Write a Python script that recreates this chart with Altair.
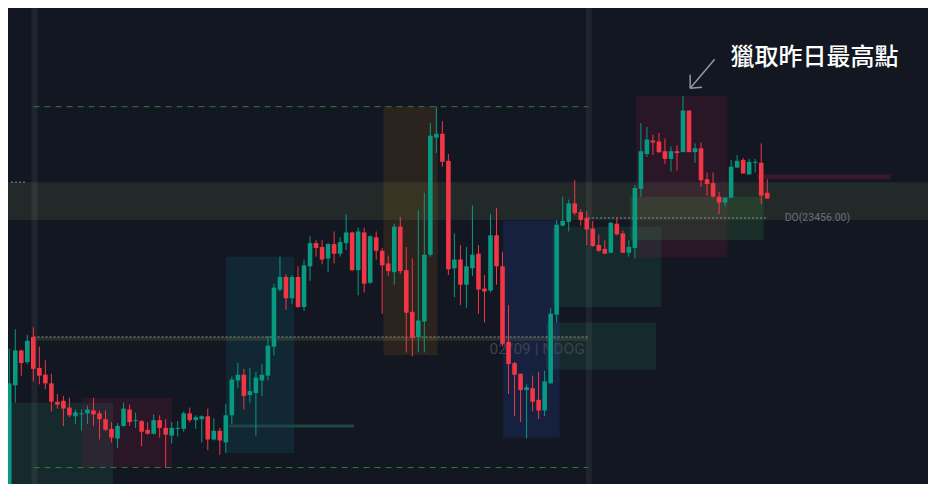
import altair as alt
import pandas as pd

# ---------------- candle data (bar index, OHLC) ----------------
open_ = [23180, 23283, 23319, 23307, 23333, 23301, 23294, 23285, 23266, 23267,
         23260, 23251, 23253, 23254, 23257, 23254, 23248, 23238, 23228, 23241,
         23258, 23246, 23246, 23237, 23233, 23247, 23239, 23231, 23238, 23238,
         23254, 23247, 23248, 23251, 23227, 23236, 23224, 23252, 23288, 23294,
         23273, 23275, 23288, 23293, 23323, 23382, 23395, 23373, 23395, 23364,
         23406, 23430, 23426, 23414, 23429, 23419, 23430, 23441, 23402, 23441,
         23389, 23436, 23422, 23409, 23400, 23447, 23402, 23359, 23333, 23349,
         23418, 23539, 23543, 23515, 23404, 23413, 23387, 23404, 23419, 23383,
         23381, 23438, 23406, 23328, 23306, 23295, 23278, 23280, 23268, 23257,
         23285, 23356, 23448, 23452, 23471, 23462, 23456, 23445, 23428, 23424,
         23420, 23450, 23440, 23420, 23425, 23486, 23522, 23536, 23535, 23525,
         23517, 23525, 23524, 23567, 23524, 23528, 23496, 23492, 23478, 23472,
         23477, 23508, 23516, 23501, 23513, 23513, 23482]
high = [23321, 23341, 23320, 23335, 23343, 23323, 23309, 23295, 23274, 23272,
        23270, 23258, 23258, 23262, 23270, 23257, 23257, 23245, 23244, 23265,
        23263, 23255, 23247, 23245, 23253, 23252, 23248, 23245, 23246, 23256,
        23260, 23252, 23252, 23259, 23249, 23239, 23264, 23292, 23306, 23300,
        23301, 23297, 23305, 23334, 23388, 23416, 23398, 23397, 23406, 23413,
        23437, 23433, 23433, 23430, 23442, 23436, 23460, 23442, 23446, 23446,
        23438, 23442, 23425, 23417, 23450, 23457, 23426, 23414, 23464, 23482,
        23554, 23571, 23556, 23522, 23440, 23428, 23426, 23469, 23428, 23397,
        23460, 23466, 23421, 23366, 23307, 23295, 23284, 23293, 23297, 23298,
        23363, 23454, 23478, 23475, 23495, 23465, 23463, 23453, 23439, 23433,
        23452, 23457, 23443, 23433, 23490, 23554, 23550, 23542, 23544, 23538,
        23530, 23531, 23582, 23567, 23533, 23534, 23503, 23503, 23483, 23477,
        23516, 23521, 23518, 23517, 23517, 23533, 23496]
low = [23177, 23265, 23293, 23305, 23287, 23284, 23279, 23256, 23259, 23241,
       23250, 23243, 23236, 23243, 23241, 23227, 23236, 23224, 23218, 23240,
       23241, 23239, 23220, 23232, 23232, 23229, 23198, 23223, 23230, 23235,
       23245, 23238, 23224, 23216, 23226, 23211, 23213, 23243, 23280, 23258,
       23265, 23231, 23272, 23288, 23314, 23380, 23361, 23367, 23363, 23360,
       23391, 23416, 23408, 23400, 23409, 23416, 23423, 23401, 23376, 23379,
       23388, 23413, 23357, 23396, 23387, 23398, 23317, 23313, 23317, 23317,
       23416, 23523, 23509, 23397, 23374, 23366, 23363, 23396, 23357, 23348,
       23379, 23387, 23323, 23274, 23251, 23245, 23228, 23256, 23248, 23251,
       23285, 23348, 23447, 23442, 23459, 23448, 23428, 23426, 23421, 23419,
       23420, 23438, 23420, 23416, 23414, 23478, 23519, 23521, 23523, 23512,
       23504, 23505, 23524, 23524, 23513, 23488, 23479, 23477, 23460, 23468,
       23477, 23508, 23502, 23501, 23503, 23470, 23476]
close = [23285, 23319, 23306, 23329, 23300, 23293, 23285, 23266, 23263, 23259,
         23252, 23255, 23254, 23258, 23253, 23248, 23237, 23229, 23241, 23259,
         23245, 23247, 23235, 23233, 23247, 23239, 23232, 23239, 23239, 23254,
         23247, 23250, 23251, 23227, 23236, 23226, 23252, 23289, 23294, 23272,
         23277, 23291, 23294, 23324, 23384, 23395, 23373, 23395, 23364, 23407,
         23430, 23425, 23413, 23429, 23419, 23431, 23441, 23402, 23442, 23388,
         23437, 23422, 23407, 23401, 23447, 23401, 23358, 23332, 23350, 23418,
         23541, 23543, 23514, 23403, 23413, 23387, 23406, 23418, 23382, 23380,
         23438, 23406, 23326, 23305, 23294, 23278, 23281, 23266, 23257, 23287,
         23357, 23449, 23453, 23471, 23461, 23454, 23444, 23427, 23422, 23419,
         23451, 23439, 23420, 23426, 23487, 23525, 23537, 23534, 23524, 23517,
         23525, 23523, 23567, 23524, 23528, 23495, 23491, 23478, 23472, 23477,
         23509, 23515, 23502, 23514, 23514, 23479, 23476]
bar_index = list(range(len(open_)))

# ---------------- zones (bar start, bar end, price low, price high) ----------------
zone_kind = ["green", "pink", "teal", "orange", "blue", "green", "green", "pink", "lightgreen", "darkred"]
zone_x0 = [-1.0, 12.04, 36.06, 62.2, 82.1, 90.3, 89.2, 104.2, 103.2, 124.3]
zone_x1 = [17.27, 27.08, 47.34, 71.2, 91.5, 108.4, 107.5, 119.4, 125.4, 146.5]
zone_lo = [23170, 23198, 23213, 23314, 23229, 23364, 23299, 23415, 23433, 23496]
zone_hi = [23265, 23270, 23416, 23571, 23453, 23447, 23348, 23582, 23478, 23501]

# previous-day range band
band_lo, band_hi = 23454, 23493
# session separators (bar ranges)
sep_x0 = [3.71, 95.86]
sep_x1 = [4.69, 96.85]

# levels
pd_high, pd_low = 23571, 23198      # dashed green levels
ndog_level = 23333
do_level = 23456

W, H = 920, 476
xs = alt.Scale(domain=[-0.21, 152.73], nice=False, zero=False, padding=0)
ys = alt.Scale(domain=[23181, 23673], nice=False, zero=False, padding=0)

GREEN = "#089981"
RED = "#f23645"

candles = pd.DataFrame({"i": bar_index, "open": open_, "high": high, "low": low, "close": close})

def xq(f):
    return alt.X(f, type="quantitative", scale=xs, axis=None)

def yq(f):
    return alt.Y(f, type="quantitative", scale=ys, axis=None)

layers = []

# horizontal band
band = alt.Chart(pd.DataFrame({"x0": [-1], "x1": [154], "lo": [band_lo], "hi": [band_hi]})).mark_rect(
    color="#7a9a5a", opacity=0.15, clip=True).encode(
    x=xq("x0"), x2="x1", y=yq("lo"), y2="hi")
layers.append(band)

zone_style = {
    "green": ("#2e9e6e", 0.14),
    "pink": ("#e91e63", 0.10),
    "teal": ("#00bcd4", 0.10),
    "orange": ("#ff9800", 0.10),
    "blue": ("#2962ff", 0.13),
    "lightgreen": ("#4caf50", 0.15),
    "darkred": ("#e91e63", 0.18),
}
zones = pd.DataFrame({"kind": zone_kind, "x0": zone_x0, "x1": zone_x1, "lo": zone_lo, "hi": zone_hi})
for k, (col, op) in zone_style.items():
    layers.append(
        alt.Chart(zones).transform_filter(alt.datum.kind == k).mark_rect(
            color=col, opacity=op, clip=True).encode(
            x=xq("x0"), x2="x1", y=yq("lo"), y2="hi")
    )

# session separators
seps = pd.DataFrame({"x0": sep_x0, "x1": sep_x1, "lo": [23181, 23181], "hi": [23673, 23673]})
layers.append(alt.Chart(seps).mark_rect(color="#ffffff", opacity=0.06).encode(
    x=xq("x0"), x2="x1", y=yq("lo"), y2="hi"))

# teal line inside teal zone
layers.append(alt.Chart(pd.DataFrame({"x0": [36.55], "x1": [57.3], "y": [23241]})).mark_rule(
    color="#1d4644", strokeWidth=3).encode(x=xq("x0"), x2="x1", y=yq("y")))

# NDOG olive band + dotted line
layers.append(alt.Chart(pd.DataFrame({"x0": [4.3], "x1": [96.2], "lo": [23329], "hi": [ndog_level]})).mark_rect(
    color="#8a8a3a", opacity=0.2).encode(x=xq("x0"), x2="x1", y=yq("lo"), y2="hi"))

lines = pd.DataFrame({
    "x0": [4.04, 4.04, 4.04, 96.2, 0.28],
    "x1": [96.2, 96.2, 96.2, 125.9, 2.73],
    "y": [pd_high, pd_low, ndog_level, do_level, band_hi],
    "kind": ["dash", "dash", "dot", "dot", "dot"],
})
layers.append(alt.Chart(lines).transform_filter(alt.datum.kind == "dash").mark_rule(
    color="#2e7d3a", strokeWidth=1, strokeDash=[6, 5]).encode(x=xq("x0"), x2="x1", y=yq("y")))
layers.append(alt.Chart(lines).transform_filter(alt.datum.kind == "dot").mark_rule(
    color="#8a8d94", strokeWidth=1, strokeDash=[2, 2]).encode(x=xq("x0"), x2="x1", y=yq("y")))

# NDOG label (behind candles)
layers.append(alt.Chart(pd.DataFrame({"x": [79.85], "y": [23321], "t": ["02/09 | NDOG"]})).mark_text(
    align="left", baseline="middle", font="Roboto", fontSize=15.5, color="#3d424d").encode(
    x=xq("x"), y=yq("y"), text="t:N"))

# candles
color_cond = alt.condition("datum.close > datum.open", alt.value(GREEN), alt.value(RED))
wicks = alt.Chart(candles).mark_rule(strokeWidth=1, clip=True).encode(
    x=xq("i"), y=yq("low"), y2="high", color=color_cond)
bodies = alt.Chart(candles).mark_bar(size=4.6, clip=True).encode(
    x=xq("i"), y=yq("open"), y2="close", color=color_cond)
layers += [wicks, bodies]

# DO label
layers.append(alt.Chart(pd.DataFrame({"x": [128.9], "y": [23456], "t": ["DO(23456.00)"]})).mark_text(
    align="left", baseline="middle", font="Roboto", fontSize=10.5, color="#6a6e78").encode(
    x=xq("x"), y=yq("y"), text="t:N"))

# annotation title + arrow
layers.append(alt.Chart(pd.DataFrame({"x": [119.9], "y": [23621], "t": ["獵取昨日最高點"]})).mark_text(
    align="left", baseline="middle", font="Noto Sans CJK TC", fontSize=24, fontWeight=500,
    color="#ffffff").encode(x=xq("x"), y=yq("y"), text="t:N"))

arrow = pd.DataFrame({
    "x0": [117.27, 113.19, 113.19],
    "y0": [23620, 23590, 23590],
    "x1": [113.19, 113.19, 115.15],
    "y1": [23590, 23604, 23591],
})
layers.append(alt.Chart(arrow).mark_rule(color="#9598a1", strokeWidth=1.5).encode(
    x=xq("x0"), y=yq("y0"), x2="x1", y2="y1"))

chart = alt.layer(*layers).properties(
    width=W, height=H, padding=0, background="#131722",
    autosize=alt.AutoSizeParams(type="fit", contains="padding"),
).configure_view(strokeWidth=0)

chart.save("out.html", embed_options={"renderer": "svg", "actions": False})
